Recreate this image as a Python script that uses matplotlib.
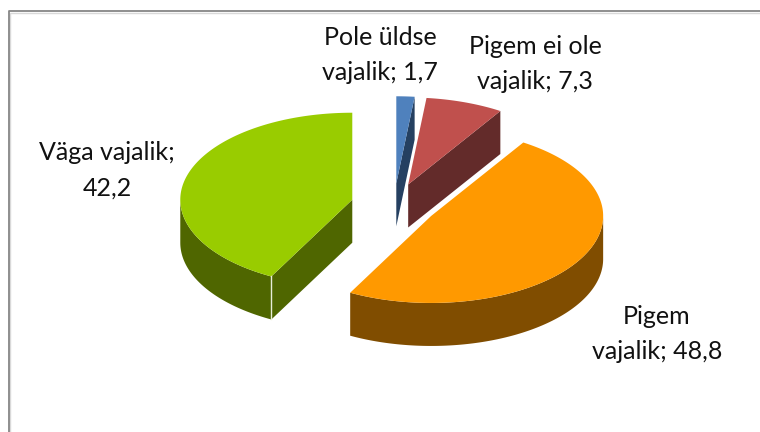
# 3D-moodi lõigatud sektordiagramm
import matplotlib
matplotlib.use('Agg')
import matplotlib.pyplot as plt
import numpy as np

# andmed
labels = ['Pole üldse\nvajalik; 1,7', 'Pigem ei ole\nvajalik; 7,3', 'Pigem\nvajalik; 48,8', 'Väga vajalik;\n42,2']
values = [1.7, 7.3, 48.8, 42.2]

top_colors = ['#4F81BD', '#C0504D', '#FF9900', '#99CC00']
side_colors = ['#254061', '#632B2A', '#804D00', '#4F6600']
label_pos = [(380, 55), (535, 64), (657, 334), (107, 170)]

# ellipsi mõõdud pikslites
cx, cy = 394, 205
rx, ry = 172, 87
depth = 43
explode = 0.25

def rim(a0, a1, xc, yc):
    # nurk loetakse kellaosuti suunas alates kella 12-st
    t = np.radians(np.linspace(a0, a1, max(int(abs(a1 - a0)) * 2, 2)))
    return xc + rx * np.sin(t), yc - ry * np.cos(t)

fig = plt.figure(figsize=(7.6, 4.32), dpi=100)
ax = fig.add_axes([0, 0, 1, 1])
ax.set_xlim(0, 760)
ax.set_ylim(432, 0)
ax.axis('off')

# raam
ax.plot([9.5, 9.5, 760], [432, 12.5, 12.5], color='#D9D9D9', lw=1, solid_capstyle='butt')
ax.plot([8.5, 8.5, 760], [432, 11, 11], color='#868686', lw=1.3, solid_capstyle='butt')

edges = np.cumsum([0] + values) * 3.6

for i in range(len(values)):
    a0, a1 = edges[i], edges[i + 1]
    mid = np.radians((a0 + a1) / 2)
    xc = cx + explode * rx * np.sin(mid)
    yc = cy - explode * ry * np.cos(mid)

    # lõikepind: paremal pool lõpuserv, vasakul pool algusserv
    if a1 <= 90:
        cut = a1
    elif a0 >= 180:
        cut = a0
    else:
        cut = None
    if cut is not None:
        ex, ey = rim(cut, cut, xc, yc)
        ax.fill([xc, ex[0], ex[0], xc], [yc, ey[0], ey[0] + depth, yc + depth],
                color=side_colors[i], lw=0)

    # välisserv, nähtav ainult alumisel poolel
    s0, s1 = max(a0, 90), min(a1, 270)
    if s1 > s0:
        sx, sy = rim(s0, s1, xc, yc)
        ax.fill(np.r_[sx, sx[::-1]], np.r_[sy, sy[::-1] + depth],
                color=side_colors[i], lw=0)

    # hele joon rohelise sektori nurgas
    if cut is not None and a0 >= 180:
        ax.plot([ex[0], ex[0]], [ey[0], ey[0] + depth], color='#E8EDD8', lw=1)

    # ülemine pind
    tx, ty = rim(a0, a1, xc, yc)
    ax.fill(np.r_[xc, tx], np.r_[yc, ty], color=top_colors[i], lw=0)

    ax.text(label_pos[i][0], label_pos[i][1], labels[i], ha='center', va='center',
            fontsize=18, family='Lato', color='#111111', linespacing=1.68)

fig.savefig('out.png', dpi=100)
